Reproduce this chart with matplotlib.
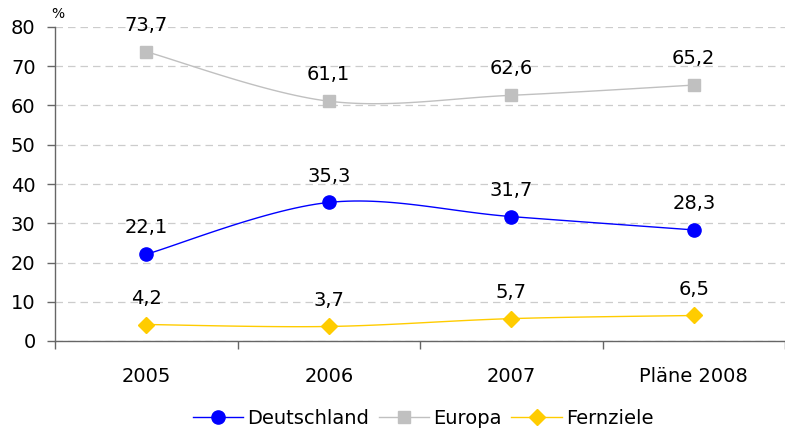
import numpy as np
import matplotlib.pyplot as plt

years = ["2005", "2006", "2007", "Pläne 2008"]
deutschland = [22.1, 35.3, 31.7, 28.3]
europa = [73.7, 61.1, 62.6, 65.2]
fernziele = [4.2, 3.7, 5.7, 6.5]


def smooth(x, y, n=30):
    # Excel-like smoothed line (Catmull-Rom via cubic bezier)
    x = np.asarray(x, float)
    y = np.asarray(y, float)
    px = np.concatenate([[x[0]], x, [x[-1]]])
    py = np.concatenate([[y[0]], y, [y[-1]]])
    xs, ys = [], []
    t = np.linspace(0, 1, n)
    for i in range(1, len(px) - 2):
        p0 = np.array([px[i], py[i]])
        p3 = np.array([px[i + 1], py[i + 1]])
        p1 = p0 + (np.array([px[i + 1], py[i + 1]]) - np.array([px[i - 1], py[i - 1]])) / 6
        p2 = p3 - (np.array([px[i + 2], py[i + 2]]) - np.array([px[i], py[i]])) / 6
        b = ((1 - t) ** 3)[:, None] * p0 + (3 * (1 - t) ** 2 * t)[:, None] * p1 \
            + (3 * (1 - t) * t ** 2)[:, None] * p2 + (t ** 3)[:, None] * p3
        xs.extend(b[:, 0])
        ys.extend(b[:, 1])
    return xs, ys


fig = plt.figure(figsize=(7.85, 4.32), dpi=100)
ax = fig.add_axes([55 / 785, 91 / 432, 730 / 785, 314 / 432])

x = np.arange(len(years))
series = [
    ("Deutschland", deutschland, "#0000FF", "o", 9.5),
    ("Europa", europa, "#C0C0C0", "s", 9),
    ("Fernziele", fernziele, "#FFCC00", "D", 8.5),
]
for name, vals, col, mk, ms in series:
    sx, sy = smooth(x, vals)
    ax.plot(sx, sy, color=col, lw=1.0, zorder=2)
    ax.plot(x, vals, ls="none", marker=mk, ms=ms, color=col, mec=col, zorder=3)
    ax.plot([], [], color=col, lw=1.0, marker=mk, ms=ms, mec=col, label=name)
    for xi, v in zip(x, vals):
        ax.annotate(f"{v:.1f}".replace(".", ","), (xi, v), xytext=(0, 19),
                    textcoords="offset points", ha="center", va="center",
                    fontsize=14)

ax.set_ylim(0, 80)
ax.set_xlim(-0.5, 3.47)
ax.set_yticks(range(0, 81, 10))
ax.yaxis.grid(True, color="#CCCCCC", ls=(0, (6, 4)), lw=0.9)
ax.set_axisbelow(True)

ax.set_xticks([-0.5, 0.5, 1.5, 2.5, 3.5])
ax.set_xticklabels([])
ax.set_xticks(x, minor=True)
ax.set_xticklabels(years, minor=True)
ax.tick_params(axis="x", which="minor", length=0, pad=19, labelsize=14)
ax.tick_params(axis="x", which="major", length=6, color="#666666", width=1)
ax.tick_params(axis="y", length=6, color="#666666", width=1, pad=8, labelsize=14)

for s in ["top", "right"]:
    ax.spines[s].set_visible(False)
for s in ["left", "bottom"]:
    ax.spines[s].set_color("#666666")
    ax.spines[s].set_linewidth(1)

fig.text(58 / 785, 1 - 14 / 432, "%", fontsize=10, ha="center", va="center")

ax.legend(loc="center", bbox_to_anchor=(423 / 785, 1 - 418 / 432),
          bbox_transform=fig.transFigure, ncol=3, frameon=False, fontsize=14,
          handlelength=2.6, handletextpad=0.2, columnspacing=0.5)

fig.savefig("out.png", dpi=100)
